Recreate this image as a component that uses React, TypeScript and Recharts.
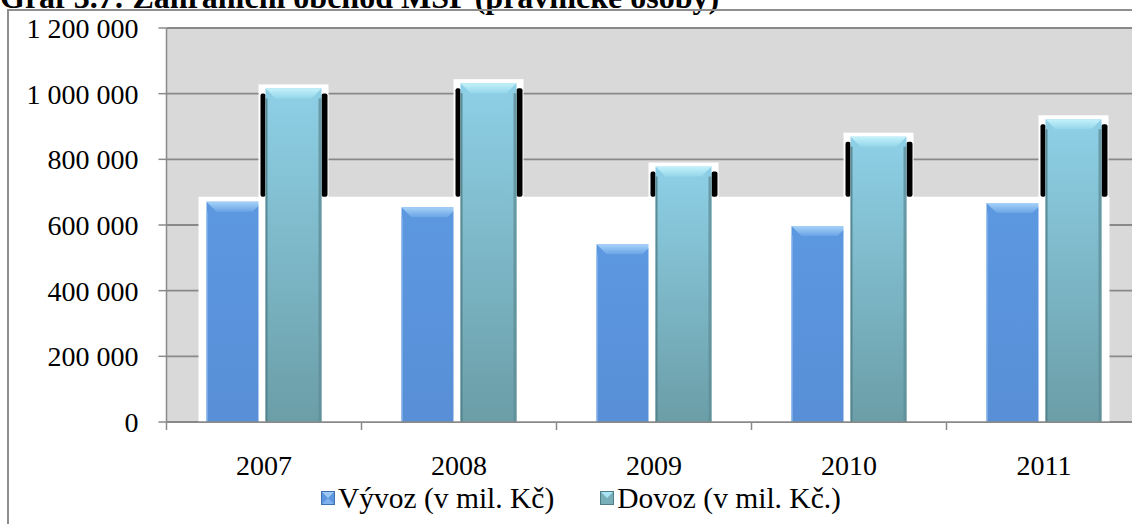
import {
  BarChart,
  Bar,
  XAxis,
  YAxis,
  CartesianGrid,
  ReferenceArea,
} from "recharts";

const years = ["2007", "2008", "2009", "2010", "2011"];
const vyvoz = [671000, 654000, 541000, 597000, 667000];
const dovoz = [1016000, 1032000, 778000, 869000, 922000];
const yTicks = [0, 200000, 400000, 600000, 800000, 1000000, 1200000];
const seriesNames = ["Vývoz (v mil. Kč)", "Dovoz (v mil. Kč.)"];
const titleText = "Graf 3.7: Zahraniční obchod MSP (právnické osoby)";
// top of the white band drawn behind the bars in the original
const whiteBandTop = 686000;

const data = years.map((year, i) => ({
  year,
  vyvoz: vyvoz[i],
  dovoz: dovoz[i],
}));

const FONT = "'Liberation Serif', 'Times New Roman', serif";

const fmt = (v: number) =>
  String(v).replace(/\B(?=(\d{3})+(?!\d))/g, " ");

const VyvozShape = (props: any) => {
  const { x, y, width: w, height: h } = props;
  if (!h || h <= 0) return null;
  const b = Math.min(10, w / 4);
  return (
    <g>
      <rect x={x - 6} y={y - 4} width={w + 12} height={h + 4} fill="#fff" />
      <rect x={x} y={y} width={w} height={h} fill="url(#gVyvoz)" />
      <polygon
        points={`${x},${y} ${x + w},${y} ${x + w - b},${y + b} ${x + b},${y + b}`}
        fill="url(#gVyvozTop)"
      />
      <rect x={x + w - 2} y={y + b} width={2} height={h - b} fill="#4b7fc4" opacity={0.7} />
      <rect x={x} y={y + b} width={1.5} height={h - b} fill="#7fb0ea" opacity={0.8} />
    </g>
  );
};

const DovozShape = (props: any) => {
  const { x, y, width: w, height: h, payload } = props;
  if (!h || h <= 0) return null;
  const b = Math.min(10, w / 4);
  const bottom = y + h;
  const cutY = bottom - whiteBandTop * (h / payload.dovoz);
  const stripH = Math.max(0, cutY - (y + 5));
  return (
    <g>
      <rect x={x - 7} y={y - 4} width={w + 14} height={h + 4} fill="#fff" />
      {stripH > 0 && (
        <>
          <rect x={x - 5} y={y + 5} width={5} height={stripH} rx={2} fill="#000" />
          <rect x={x + w} y={y + 5} width={6} height={stripH} rx={2} fill="#000" />
        </>
      )}
      <rect x={x} y={y} width={w} height={h} fill="url(#gDovoz)" />
      <polygon
        points={`${x},${y} ${x + w},${y} ${x + w - b},${y + b} ${x + b},${y + b}`}
        fill="url(#gDovozTop)"
      />
      <rect x={x} y={y + b} width={2} height={h - b} fill="#4f7d86" opacity={0.8} />
      <rect x={x + w - 3} y={y + b} width={3} height={h - b} fill="#5f8e97" opacity={0.8} />
    </g>
  );
};

const WhiteBand = (props: any) => {
  const { x, y, width, height } = props;
  return <rect x={x + 32} y={y} width={width - 64} height={height} fill="#fff" />;
};

const XTick = (props: any) => {
  const { x, y, payload, index } = props;
  const off = payload.offset || 0;
  return (
    <g>
      <line x1={x - off} y1={y} x2={x - off} y2={y + 8} stroke="#8a8a8a" strokeWidth={1.5} />
      {index === years.length - 1 && (
        <line x1={x + off} y1={y} x2={x + off} y2={y + 8} stroke="#8a8a8a" strokeWidth={1.5} />
      )}
      <text
        x={x}
        y={y + 53}
        textAnchor="middle"
        fontFamily={FONT}
        fontSize={28}
        fill="#000"
      >
        {payload.value}
      </text>
    </g>
  );
};

const LegendMarker = ({ kind }: { kind: "v" | "d" }) => (
  <svg width={14} height={14} style={{ display: "block" }}>
    {kind === "v" ? (
      <>
        <rect x={0} y={0} width={14} height={14} fill="#5b96de" />
        <polygon points="0,0 14,0 7,7" fill="#9cc9f4" />
        <polygon points="0,14 14,14 7,7" fill="#7fb2ec" />
        <rect x={0.5} y={0.5} width={13} height={13} fill="none" stroke="#3f70b0" strokeWidth={1} />
      </>
    ) : (
      <>
        <rect x={0} y={0} width={14} height={14} fill="#78aeb8" />
        <polygon points="0,0 14,0 7,7" fill="#a9e4f4" />
        <rect x={0.5} y={0.5} width={13} height={13} fill="none" stroke="#4f7d86" strokeWidth={1} />
      </>
    )}
  </svg>
);

export default function App() {
  return (
    <div
      style={{
        position: "absolute",
        left: 0,
        top: 0,
        width: 1132,
        height: 524,
        overflow: "hidden",
        background: "#fff",
        fontFamily: FONT,
      }}
    >
      <div
        style={{
          position: "absolute",
          left: 0,
          top: -21,
          fontSize: 32,
          fontWeight: "bold",
          whiteSpace: "nowrap",
          lineHeight: "normal",
          color: "#000",
        }}
      >
        {titleText}
      </div>
      <div
        style={{
          position: "absolute",
          left: 7,
          top: 9,
          width: 2000,
          height: 1000,
          borderLeft: "2px solid #8e8e8e",
          borderTop: "2px solid #8e8e8e",
        }}
      />
      <div style={{ position: "absolute", left: 0, top: 0 }}>
        <BarChart
          width={1200}
          height={524}
          data={data}
          margin={{ top: 28, right: 58.5, bottom: 42, left: 8 }}
          barSize={56}
          barGap={3}
        >
          <defs>
            <linearGradient id="gVyvoz" x1="0" y1="0" x2="0" y2="1">
              <stop offset="0%" stopColor="#5c98e0" />
              <stop offset="100%" stopColor="#588fd6" />
            </linearGradient>
            <linearGradient id="gVyvozTop" x1="0" y1="0" x2="0" y2="1">
              <stop offset="0%" stopColor="#a6d2f8" />
              <stop offset="100%" stopColor="#6aa4e6" />
            </linearGradient>
            <linearGradient id="gDovoz" x1="0" y1="0" x2="0" y2="1">
              <stop offset="0%" stopColor="#8ed0e7" />
              <stop offset="100%" stopColor="#6b9ea7" />
            </linearGradient>
            <linearGradient id="gDovozTop" x1="0" y1="0" x2="0" y2="1">
              <stop offset="0%" stopColor="#c4f2fb" />
              <stop offset="100%" stopColor="#94d6ea" />
            </linearGradient>
          </defs>
          <CartesianGrid
            vertical={false}
            fill="#d9d9d9"
            stroke="#898989"
            strokeWidth={1.8}
          />
          <ReferenceArea
            y1={0}
            y2={whiteBandTop}
            x1={years[0]}
            x2={years[years.length - 1]}
            shape={WhiteBand}
            ifOverflow="visible"
          />
          <XAxis
            dataKey="year"
            height={60}
            tickLine={false}
            tickSize={0}
            tickMargin={0}
            axisLine={{ stroke: "#8a8a8a", strokeWidth: 1.5 }}
            tick={<XTick />}
            interval={0}
          />
          <YAxis
            width={158.5}
            domain={[0, 1200000]}
            ticks={yTicks}
            tickFormatter={fmt}
            tickSize={8}
            tickMargin={20}
            axisLine={{ stroke: "#8a8a8a", strokeWidth: 1.5 }}
            tickLine={{ stroke: "#8a8a8a", strokeWidth: 1.5 }}
            tick={{ fontFamily: FONT, fontSize: 28, fill: "#000" }}
            interval={0}
          />
          <Bar
            dataKey="vyvoz"
            name={seriesNames[0]}
            shape={VyvozShape}
            isAnimationActive={false}
          />
          <Bar
            dataKey="dovoz"
            name={seriesNames[1]}
            shape={DovozShape}
            isAnimationActive={false}
          />
        </BarChart>
      </div>
      <div
        style={{
          position: "absolute",
          left: 321,
          top: 481,
          display: "flex",
          alignItems: "center",
          gap: 46,
          fontSize: 29.5,
          whiteSpace: "nowrap",
          color: "#000",
          lineHeight: "34px",
          fontFamily: FONT,
        }}
      >
        <div style={{ display: "flex", alignItems: "center", gap: 3 }}>
          <LegendMarker kind="v" />
          <span>{seriesNames[0]}</span>
        </div>
        <div style={{ display: "flex", alignItems: "center", gap: 3 }}>
          <LegendMarker kind="d" />
          <span>{seriesNames[1]}</span>
        </div>
      </div>
    </div>
  );
}
